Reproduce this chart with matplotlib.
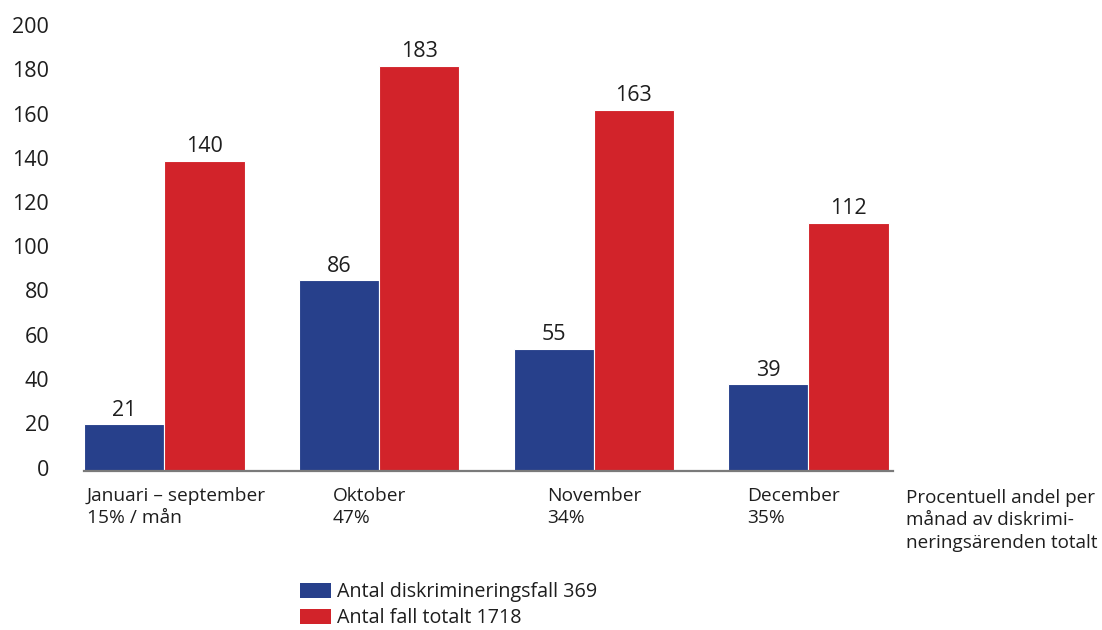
import matplotlib
matplotlib.use("Agg")
import matplotlib.pyplot as plt
from matplotlib.patches import Patch
from matplotlib.transforms import ScaledTranslation

plt.rcParams['font.family'] = ['Open Sans', 'DejaVu Sans']

categories = ["Januari – september\n15% / mån", "Oktober\n47%", "November\n34%", "December\n35%"]
discrimination = [21, 86, 55, 39]
total = [140, 183, 163, 112]
legend_labels = ["Antal diskrimineringsfall 369", "Antal fall totalt 1718"]
side_note = "Procentuell andel per\nmånad av diskrimi-\nneringsärenden totalt"
yticks = [0, 20, 40, 60, 80, 100, 120, 140, 160, 180, 200]

blue = "#27408B"
red = "#D2232A"
txt = "#1e1e1e"

fig = plt.figure(figsize=(11.02, 6.30), dpi=100)
ax = fig.add_axes([0.0762, 1 - 470.5 / 630, 0.734, (470.5 - 28) / 630])

w = 0.373
x = list(range(len(categories)))
xb = [i - w / 2 for i in x]
xr = [i + w / 2 for i in x]
b1 = ax.bar(xb, discrimination, width=w, color=blue, edgecolor="white", linewidth=0.8)
b2 = ax.bar(xr, total, width=w, color=red, edgecolor="white", linewidth=0.8)

for bars, vals in ((b1, discrimination), (b2, total)):
    for rect, v in zip(bars, vals):
        ax.annotate(str(v), (rect.get_x() + rect.get_width() / 2, v),
                    xytext=(0, 2.5), textcoords="offset points",
                    ha="center", va="bottom", fontsize=15.5, color=txt)

ax.set_xlim(-0.375, 3.393)
ax.set_ylim(0, 200)
ax.set_yticks(yticks)
ax.set_yticklabels([str(t) for t in yticks], fontsize=15.5, color=txt)
ax.tick_params(axis="y", length=0, pad=25)
shift = ScaledTranslation(0, 3 / 100, fig.dpi_scale_trans)
for lbl in ax.get_yticklabels():
    lbl.set_transform(lbl.get_transform() + shift)
ax.set_xticks([])
for s in ("top", "right", "left"):
    ax.spines[s].set_visible(False)
ax.spines["bottom"].set_color("#7a7a7a")
ax.spines["bottom"].set_linewidth(1.6)

offsets = [-0.361, -0.215, -0.219, -0.287]
for i, (lab, off) in enumerate(zip(categories, offsets)):
    ax.text(i + off, -7.5, lab, ha="left", va="top", fontsize=13.8, color=txt,
            linespacing=1.3, transform=ax.transData)

fig.text(906 / 1102, 1 - 489 / 630, side_note, ha="left", va="top", fontsize=13.6,
         color=txt, linespacing=1.32)

handles = [Patch(facecolor=blue), Patch(facecolor=red)]
fig.legend(handles, legend_labels, loc="upper left", bbox_to_anchor=(300 / 1102, 1 - 582 / 630),
           frameon=False, fontsize=14.2, handlelength=1.55, handleheight=0.8,
           handletextpad=0.35, labelspacing=0.3, borderpad=0.0, borderaxespad=0.0,
           labelcolor=txt)

fig.savefig("out.png", dpi=100)
